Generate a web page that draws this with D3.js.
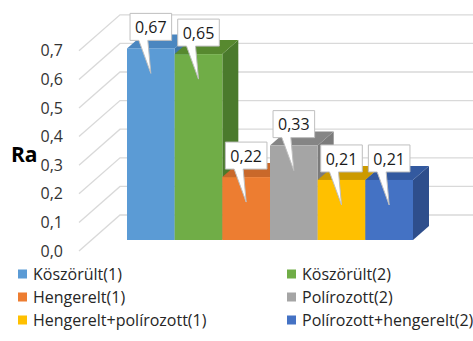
<!DOCTYPE html>
<html>
<head>
<meta charset="utf-8">
<script src="https://cdn.jsdelivr.net/npm/d3@7"></script>
<style>
  html, body { margin: 0; padding: 0; background: #fff; }
  svg { display: block; font-family: "Open Sans", "Noto Sans", sans-serif; }
</style>
</head>
<body>
<svg id="chart" width="473" height="341"></svg>
<script>
// Surface roughness Ra for each finishing process
const categories = ["Köszörült(1)", "Köszörült(2)", "Hengerelt(1)", "Polírozott(2)", "Hengerelt+polírozott(1)", "Polírozott+hengerelt(2)"];
const values = [0.67, 0.65, 0.22, 0.33, 0.21, 0.21];
const valueLabels = ["0,67", "0,65", "0,22", "0,33", "0,21", "0,21"];
const tickValues = [0, 0.1, 0.2, 0.3, 0.4, 0.5, 0.6, 0.7];
const tickLabels = ["0,0", "0,1", "0,2", "0,3", "0,4", "0,5", "0,6", "0,7"];
const axisTitle = "Ra";

// front, side and top face colours per series
const frontColors = ["#5b9bd5", "#70ad47", "#ed7d31", "#a5a5a5", "#ffc000", "#4472c4"];
const sideColors  = ["#3f76a8", "#4a7a2c", "#b55d22", "#7b7b7b", "#c09000", "#2e4e8c"];
const topColors   = ["#4a86c0", "#57892f", "#c9682a", "#858585", "#cc9a00", "#33599f"];

const svg = d3.select("#chart");

// oblique projection: depth runs up and to the right
const wallDX = 41, wallDY = -36;     // front plane -> back wall
const barOffX = 12, barOffY = -11;   // front plane -> bar front faces
const barDX = 16, barDY = -14;       // bar depth

const y = d3.scaleLinear().domain([0, 0.7]).range([251, 251 - 0.7 * 286]);
const x = d3.scaleBand().domain(categories).range([115, 401]).padding(0);

// gridlines: diagonal on the side wall, horizontal on the back wall
const grid = svg.append("g").attr("stroke", "#d9d9d9").attr("stroke-width", 1.3).attr("fill", "none");
tickValues.forEach(v => {
  const y0 = y(v);
  grid.append("path")
    .attr("d", `M79,${y0}L${79 + wallDX},${y0 + wallDY}L473,${y0 + wallDY}`);
});

// tick labels
svg.append("g")
  .attr("font-size", 16).attr("fill", "#333").attr("text-anchor", "end")
  .selectAll("text").data(tickValues).join("text")
  .attr("x", 63).attr("y", d => y(d)).attr("dy", "0.35em")
  .text((d, i) => tickLabels[i]);

svg.append("text")
  .attr("x", 11).attr("y", 155).attr("dy", "0.35em")
  .attr("font-size", 21).attr("font-weight", "bold").attr("fill", "#000")
  .text(axisTitle);

// bars (left to right so each front face covers the previous side)
const bars = svg.append("g");
categories.forEach((c, i) => {
  const x0 = x(c) + barOffX, x1 = x0 + x.bandwidth();
  const yb = y(0) + barOffY, yt = y(values[i]) + barOffY;
  const g = bars.append("g");
  g.append("path").attr("fill", sideColors[i])
    .attr("d", `M${x1},${yb}L${x1 + barDX},${yb + barDY}L${x1 + barDX},${yt + barDY}L${x1},${yt}Z`);
  g.append("path").attr("fill", topColors[i])
    .attr("d", `M${x0},${yt}L${x1},${yt}L${x1 + barDX},${yt + barDY}L${x0 + barDX},${yt + barDY}Z`);
  g.append("rect").attr("fill", frontColors[i])
    .attr("x", x0).attr("y", yt).attr("width", x1 - x0).attr("height", yb - yt);
});

// callout data labels
const callouts = svg.append("g");
categories.forEach((c, i) => {
  const cx = x(c) + barOffX + x.bandwidth() / 2;
  const yt = y(values[i]) + barOffY;
  const g = callouts.append("g");
  const t = g.append("text")
    .attr("font-size", 16).attr("fill", "#1a1a1a").attr("text-anchor", "middle")
    .attr("x", cx).attr("y", yt - 21).attr("dy", "0.35em")
    .text(valueLabels[i]);
  const w = t.node().getComputedTextLength() + 10;
  const bt = yt - 35, bb = yt - 8;
  const l = cx - w / 2, r = cx + w / 2;
  g.insert("path", "text")
    .attr("fill", "#fff").attr("stroke", "#bfbfbf").attr("stroke-width", 1)
    .attr("d", `M${l},${bt}L${r},${bt}L${r},${bb}L${cx - 3},${bb}L${cx},${yt + 25}L${cx - 12},${bb}L${l},${bb}Z`);
});

// legend in two columns
const legend = svg.append("g").attr("font-size", 16).attr("fill", "#262626");
categories.forEach((c, i) => {
  const col = i % 2, row = Math.floor(i / 2);
  const lx = col === 0 ? 18 : 287;
  const ly = 274 + row * 23;
  legend.append("rect").attr("x", lx).attr("y", ly - 4.5).attr("width", 9).attr("height", 9).attr("fill", frontColors[i]);
  legend.append("text").attr("x", lx + 15).attr("y", ly).attr("dy", "0.35em").text(c);
});
</script>
</body>
</html>
